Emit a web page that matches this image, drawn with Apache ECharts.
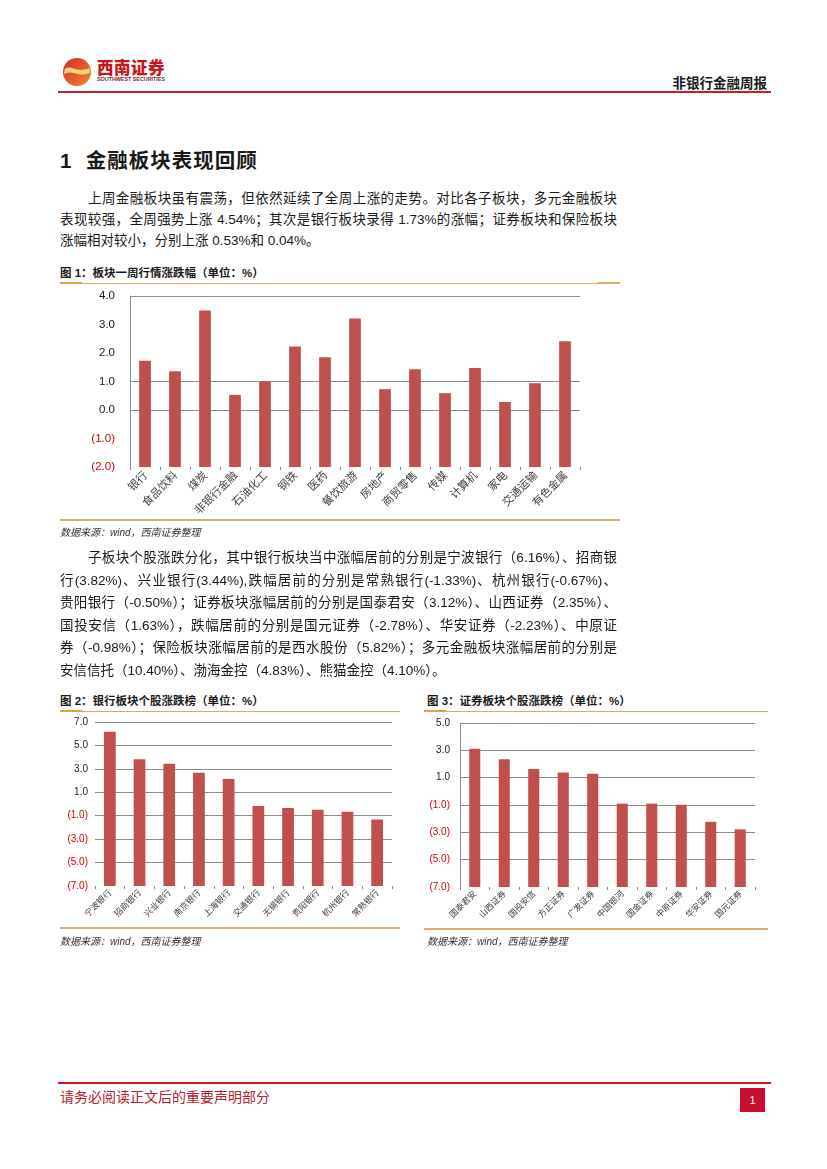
<!DOCTYPE html>
<html><head><meta charset="utf-8">
<script src="https://cdn.jsdelivr.net/npm/echarts@6/dist/echarts.min.js"></script>
<style>
html,body{margin:0;padding:0;background:#fff;}
#page{position:relative;width:827px;height:1169px;background:#fff;overflow:hidden;font-family:"Liberation Sans","Noto Sans CJK SC",sans-serif;color:#1a1a1a;}
.abs{position:absolute;}
.ln{position:absolute;left:60px;width:557px;font-size:13.5px;height:22px;line-height:22px;text-align:justify;text-align-last:justify;white-space:normal;}
.ln.ind{left:88px;width:529px;}
.ln.last{text-align-last:left;}
.ftitle{position:absolute;font-size:11.5px;font-weight:700;white-space:nowrap;}
.src{position:absolute;font-size:10px;font-style:italic;color:#333;white-space:nowrap;}
.gold{position:absolute;height:1px;background:#D2AC72;}
.goldb{position:absolute;height:2px;background:#D9AF6E;}
.chart{position:absolute;}
</style></head>
<body><div id="page">
<!-- header -->
<svg class="abs" style="left:62px;top:57px" width="30" height="30" viewBox="0 0 30 30">
 <defs><linearGradient id="lg" x1="0" y1="0" x2="1" y2="1"><stop offset="0" stop-color="#D8262B"/><stop offset="1" stop-color="#EE8A2A"/></linearGradient></defs>
 <circle cx="15" cy="15" r="14" fill="url(#lg)"/>
 <path d="M2.5 12.5 C8 6.5 14 17 27.5 11 L28 15.5 C17 21.5 9 11.5 2.2 17.5 Z" fill="#F7D37A"/>
</svg>
<div class="abs" style="left:97px;top:57px;font-size:16.5px;font-weight:900;color:#C8161D;letter-spacing:0.5px;font-family:'Noto Sans CJK SC';line-height:20px;">西南证券</div>
<svg class="abs" style="left:96px;top:75px" width="72" height="8"><text x="1" y="6" font-size="5.6" font-weight="700" fill="#8A1A1A" font-family="Liberation Sans" textLength="68" lengthAdjust="spacingAndGlyphs">SOUTHWEST SECURITIES</text></svg>
<div class="abs" style="right:60px;top:72px;font-size:13.5px;font-weight:700;font-family:'Noto Sans CJK SC';line-height:20px;">非银行金融周报</div>
<div class="abs" style="left:58px;top:91px;width:713px;height:2px;background:#C0202A;"></div>

<div class="abs" style="left:60px;top:148px;font-size:20.5px;font-weight:700;line-height:26px;letter-spacing:1px;white-space:nowrap;">1&nbsp;&nbsp;金融板块表现回顾</div>

<div class="ln ind" style="top:188px;">上周金融板块虽有震荡，但依然延续了全周上涨的走势。对比各子板块，多元金融板块</div>
<div class="ln" style="top:209px;">表现较强，全周强势上涨 4.54%；其次是银行板块录得 1.73%的涨幅；证券板块和保险板块</div>
<div class="ln last" style="top:230px;">涨幅相对较小，分别上涨 0.53%和 0.04%。</div>

<div class="ftitle" style="left:60px;top:264px;">图 1：板块一周行情涨跌幅（单位：%）</div>
<div class="gold" style="left:60px;top:283px;width:560px;"></div>
<div class="goldb" style="left:60px;top:282px;width:22px;background:#E3A24A;"></div>
<div class="goldb" style="left:598px;top:282px;width:22px;"></div>
<div id="c1" class="chart" style="left:60px;top:284px;width:560px;height:236px;"></div>
<div class="goldb" style="left:60px;top:519px;width:560px;"></div>
<div class="src" style="left:60px;top:524px;">数据来源：wind，西南证券整理</div>

<div class="ln ind" style="top:547px;">子板块个股涨跌分化，其中银行板块当中涨幅居前的分别是宁波银行（6.16%）、招商银</div>
<div class="ln" style="top:569.5px;">行(3.82%)、兴业银行(3.44%),跌幅居前的分别是常熟银行(-1.33%)、杭州银行(-0.67%)、</div>
<div class="ln" style="top:592px;">贵阳银行（-0.50%）；证券板块涨幅居前的分别是国泰君安（3.12%）、山西证券（2.35%）、</div>
<div class="ln" style="top:614.5px;">国投安信（1.63%），跌幅居前的分别是国元证券（-2.78%）、华安证券（-2.23%）、中原证</div>
<div class="ln" style="top:637px;">券（-0.98%）；保险板块涨幅居前的是西水股份（5.82%）；多元金融板块涨幅居前的分别是</div>
<div class="ln last" style="top:659.5px;">安信信托（10.40%）、渤海金控（4.83%）、熊猫金控（4.10%）。</div>

<div class="ftitle" style="left:60px;top:692px;">图 2：银行板块个股涨跌榜（单位：%）</div>
<div class="gold" style="left:60px;top:711px;width:340px;"></div>
<div class="goldb" style="left:60px;top:710px;width:22px;background:#E3A24A;"></div>
<div id="c2" class="chart" style="left:60px;top:712px;width:340px;height:216px;"></div>
<div class="goldb" style="left:60px;top:927px;width:340px;"></div>
<div class="src" style="left:60px;top:933px;">数据来源：wind，西南证券整理</div>

<div class="ftitle" style="left:427px;top:692px;">图 3：证券板块个股涨跌榜（单位：%）</div>
<div class="gold" style="left:424px;top:711px;width:344px;"></div>
<div class="goldb" style="left:424px;top:710px;width:22px;background:#E3A24A;"></div>
<div id="c3" class="chart" style="left:420px;top:712px;width:348px;height:217px;"></div>
<div class="goldb" style="left:424px;top:928px;width:344px;"></div>
<div class="src" style="left:427px;top:933px;">数据来源：wind，西南证券整理</div>

<!-- footer -->
<div class="abs" style="left:58px;top:1082px;width:713px;height:2px;background:#C0202A;"></div>
<div class="abs" style="left:60px;top:1086px;font-size:14px;color:#B8202A;line-height:20px;font-family:'Noto Sans CJK SC';white-space:nowrap;">请务必阅读正文后的重要声明部分</div>
<div class="abs" style="left:740px;top:1088px;width:25px;height:24px;background:#C8102E;color:#fff;font-size:11px;line-height:24px;text-align:center;">1</div>
</div>
<script>
// ---- data ----
const cats1 = ['银行','食品饮料','煤炭','非银行金融','石油化工','钢铁','医药','餐饮旅游','房地产','商贸零售','传媒','计算机','家电','交通运输','有色金属'];
const vals1 = [1.73,1.36,3.49,0.53,1.01,2.23,1.85,3.21,0.73,1.43,0.59,1.47,0.28,0.94,2.41];

const cats2 = ['宁波银行','招商银行','兴业银行','南京银行','上海银行','交通银行','无锡银行','贵阳银行','杭州银行','常熟银行'];
const vals2 = [6.16,3.82,3.44,2.66,2.14,-0.17,-0.34,-0.50,-0.67,-1.33];

const cats3 = ['国泰君安','山西证券','国投安信','方正证券','广发证券','中国银河','国金证券','中原证券','华安证券','国元证券'];
const vals3 = [3.12,2.35,1.63,1.37,1.29,-0.90,-0.90,-0.98,-2.23,-2.78];

const BAR = '#C0504D';
const GRID = '#8C8C8C';
const RED = '#D40000';
const FONT = 'Liberation Sans, Noto Sans CJK SC, sans-serif';

function fmt(v){ v = Number(v); return v < 0 ? '(' + Math.abs(v).toFixed(1) + ')' : v.toFixed(1); }

function make(id, cats, vals, c) {
  const ch = echarts.init(document.getElementById(id), null, {renderer:'canvas'});
  const lineColors = [];
  for (let v = c.min; v <= c.max + 1e-9; v += 1) lineColors.push(c.showLine(v) ? GRID : 'rgba(0,0,0,0)');
  ch.setOption({
    animation:false,
    textStyle:{fontFamily:FONT},
    grid:c.grid,
    xAxis:{type:'category', data:cats,
      axisLine:{show:false, onZero:false},
      axisTick:{show:true, length:3, lineStyle:{color:GRID}},
      axisLabel:{rotate:45, fontSize:c.xfs, color:'#404040', margin:c.xmargin, interval:0, fontFamily:'Noto Sans CJK SC'}},
    yAxis:{type:'value', min:c.min, max:c.max, interval:1,
      axisLine:{show:c.yline, lineStyle:{color:GRID}},
      axisTick:{show:false},
      splitLine:{show:true, lineStyle:{color:lineColors, width:1}},
      axisLabel:{fontSize:c.yfs, margin:c.ymargin,
        formatter:(v)=> c.showLabel(Number(v)) ? fmt(v) : '',
        color:(v)=> Number(v) < 0 ? RED : '#1a1a1a'}},
    series:[{type:'custom', data:vals.map((v,i)=>[i,v]), encode:{x:0,y:1},
      renderItem:(params, api)=>{
        const x = api.value(0), v = api.value(1);
        const top = api.coord([x, v]);
        const base = api.coord([x, c.min]);
        const w = api.size([1,0])[0] * c.bw;
        return {type:'rect', shape:{x:top[0]-w/2, y:top[1], width:w, height:base[1]-top[1]}, style:{fill:BAR}};
      }}]
  });
}

make('c1', cats1, vals1, {min:-2, max:4, grid:{left:70,right:40,top:12,bottom:53},
  showLine:v=> v===0||v===1||v===4, showLabel:v=>true, yline:true,
  xfs:11, xmargin:6, yfs:11.5, ymargin:15, bw:0.39});
make('c2', cats2, vals2, {min:-7, max:7, grid:{left:35,right:8,top:10,bottom:42},
  showLine:v=> Math.abs(v)%2===1 && v!==-7, showLabel:v=> Math.abs(v)%2===1, yline:false,
  xfs:8.5, xmargin:5, yfs:10, ymargin:7, bw:0.395});
make('c3', cats3, vals3, {min:-7, max:5, grid:{left:40,right:13,top:11,bottom:42},
  showLine:v=> Math.abs(v)%2===1 && v!==-7, showLabel:v=> Math.abs(v)%2===1, yline:true,
  xfs:8.5, xmargin:5, yfs:10, ymargin:10, bw:0.375});
</script>
</body></html>
